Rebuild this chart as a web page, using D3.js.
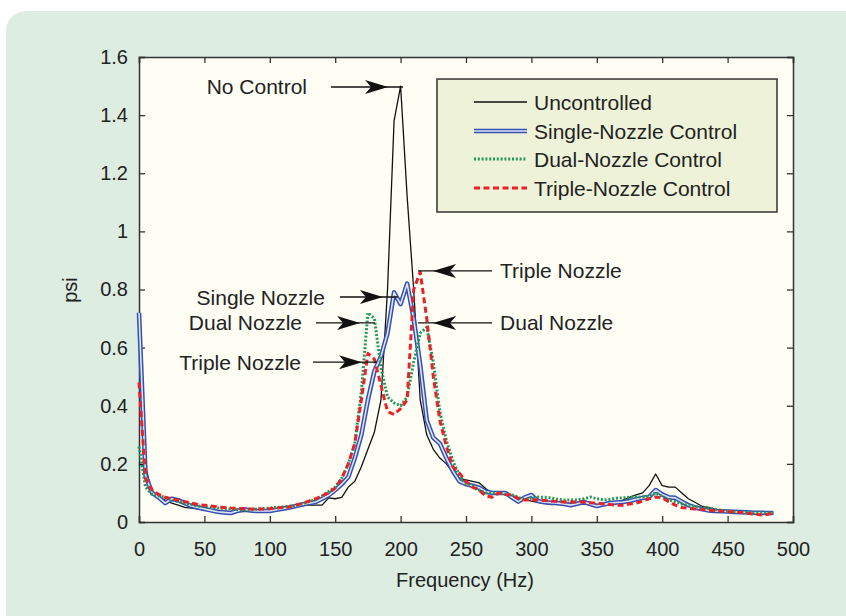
<!DOCTYPE html>
<html>
<head>
<meta charset="utf-8">
<script src="https://cdn.jsdelivr.net/npm/d3@7"></script>
<style>
  body { margin: 0; background: #fff; }
  svg { display: block; font-family: "Liberation Sans", Arial, sans-serif; }
</style>
</head>
<body>
<div id="chart"></div>
<script>
// frequency grid (Hz), one point every 5 Hz
const freq = d3.range(0, 490, 5);

// psi values
const uncontrolled = [
  0.20, 0.19, 0.10, 0.085, 0.075, 0.065, 0.058, 0.05, 0.048, 0.045,
  0.041, 0.04, 0.038, 0.036, 0.035, 0.035, 0.036, 0.037, 0.037, 0.038,
  0.04, 0.043, 0.047, 0.05, 0.053, 0.056, 0.058, 0.058, 0.058, 0.083,
  0.08, 0.085, 0.12, 0.14, 0.19, 0.25, 0.31, 0.42, 0.80, 1.38,
  1.50, 1.12, 0.80, 0.42, 0.30, 0.25, 0.22, 0.20, 0.17, 0.15,
  0.145, 0.14, 0.135, 0.115, 0.10, 0.10, 0.095, 0.09, 0.085, 0.078,
  0.072, 0.068, 0.064, 0.06, 0.062, 0.064, 0.065, 0.063, 0.062, 0.06,
  0.06, 0.062, 0.064, 0.066, 0.075, 0.085, 0.093, 0.10, 0.125, 0.165,
  0.125, 0.12, 0.12, 0.10, 0.08, 0.068, 0.055, 0.05, 0.044, 0.041,
  0.038, 0.036, 0.035, 0.034, 0.033, 0.032, 0.031, 0.03
];
const singleNozzle = [
  0.72, 0.16, 0.10, 0.085, 0.065, 0.08, 0.075, 0.065, 0.055, 0.05,
  0.045, 0.04, 0.035, 0.033, 0.031, 0.038, 0.044, 0.04, 0.038, 0.038,
  0.038, 0.042, 0.046, 0.05, 0.055, 0.06, 0.065, 0.069, 0.08, 0.092,
  0.11, 0.13, 0.155, 0.22, 0.30, 0.42, 0.52, 0.57, 0.65, 0.79,
  0.75, 0.82, 0.70, 0.54, 0.35, 0.29, 0.27, 0.22, 0.175, 0.14,
  0.13, 0.125, 0.118, 0.105, 0.10, 0.10, 0.10, 0.085, 0.07, 0.085,
  0.093, 0.072, 0.068, 0.066, 0.065, 0.062, 0.058, 0.063, 0.069, 0.062,
  0.055, 0.06, 0.065, 0.067, 0.069, 0.072, 0.078, 0.083, 0.086, 0.11,
  0.095, 0.085, 0.083, 0.07, 0.058, 0.05, 0.045, 0.04, 0.038, 0.037,
  0.036, 0.035, 0.034, 0.033, 0.032, 0.032, 0.031, 0.031
];
const dualNozzle = [
  0.26, 0.12, 0.095, 0.09, 0.085, 0.075, 0.07, 0.065, 0.06, 0.055,
  0.052, 0.05, 0.048, 0.047, 0.045, 0.043, 0.041, 0.042, 0.044, 0.046,
  0.048, 0.05, 0.052, 0.054, 0.057, 0.063, 0.07, 0.077, 0.09, 0.105,
  0.12, 0.15, 0.20, 0.27, 0.45, 0.72, 0.70, 0.53, 0.43, 0.41,
  0.40, 0.43, 0.55, 0.65, 0.67, 0.55, 0.38, 0.28, 0.21, 0.16,
  0.13, 0.125, 0.11, 0.10, 0.10, 0.10, 0.095, 0.093, 0.085, 0.076,
  0.082, 0.086, 0.085, 0.083, 0.078, 0.076, 0.076, 0.076, 0.08, 0.086,
  0.08, 0.076, 0.078, 0.082, 0.083, 0.085, 0.086, 0.086, 0.088, 0.10,
  0.088, 0.076, 0.07, 0.062, 0.057, 0.053, 0.05, 0.048, 0.044, 0.04,
  0.037, 0.035, 0.034, 0.033, 0.032, 0.032, 0.031, 0.031
];
const tripleNozzle = [
  0.48, 0.15, 0.11, 0.095, 0.085, 0.08, 0.075, 0.07, 0.065, 0.06,
  0.058, 0.055, 0.052, 0.05, 0.048, 0.047, 0.046, 0.045, 0.045, 0.045,
  0.046, 0.048, 0.05, 0.052, 0.058, 0.064, 0.072, 0.08, 0.09, 0.10,
  0.117, 0.15, 0.20, 0.27, 0.42, 0.58, 0.56, 0.47, 0.38, 0.37,
  0.39, 0.42, 0.80, 0.86, 0.70, 0.50, 0.35, 0.26, 0.19, 0.168,
  0.14, 0.12, 0.11, 0.09, 0.085, 0.10, 0.095, 0.093, 0.08, 0.076,
  0.076, 0.076, 0.074, 0.072, 0.07, 0.069, 0.069, 0.069, 0.069, 0.066,
  0.065, 0.062, 0.06, 0.058, 0.058, 0.062, 0.065, 0.072, 0.08, 0.086,
  0.083, 0.07, 0.058, 0.05, 0.047, 0.045, 0.043, 0.041, 0.039, 0.038,
  0.036, 0.034, 0.033, 0.03, 0.027, 0.025, 0.026, 0.031
];

const seriesNames = ["Uncontrolled", "Single-Nozzle Control", "Dual-Nozzle Control", "Triple-Nozzle Control"];
const xTicks = [0, 50, 100, 150, 200, 250, 300, 350, 400, 450, 500];
const yTicks = [0, 0.2, 0.4, 0.6, 0.8, 1, 1.2, 1.4, 1.6];
const yTickLabels = ["0", "0.2", "0.4", "0.6", "0.8", "1", "1.2", "1.4", "1.6"];

// annotation labels with arrow tip (Hz, psi)
const noteText = ["No Control", "Single Nozzle", "Dual Nozzle", "Triple Nozzle", "Triple Nozzle", "Dual Nozzle"];
const noteFreq = [190.4, 186.5, 169, 170.5, 224.8, 224.8];
const notePsi = [1.497, 0.774, 0.685, 0.55, 0.864, 0.685];
const noteSide = [-1, -1, -1, -1, 1, 1]; // text on left (-1) or right (1)
const noteLen = [57, 43, 44, 49, 59, 59];
const noteGap = [24, 15, 14, 12, 8, 8];

const W = 846, H = 616;
const svg = d3.select("#chart").append("svg")
  .attr("width", W).attr("height", H);

// green rounded panel
svg.append("rect")
  .attr("x", 6).attr("y", 11).attr("width", W + 30).attr("height", H + 30)
  .attr("rx", 20).attr("fill", "#ddede2");

const x = d3.scaleLinear().domain([0, 500]).range([139, 793]);
const y = d3.scaleLinear().domain([0, 1.6]).range([522, 57]);

svg.append("rect")
  .attr("x", 139).attr("y", 57).attr("width", 654).attr("height", 465)
  .attr("fill", "#fefef4");

// axes, ticks pointing inward on all 4 sides
const gx = svg.append("g").attr("transform", "translate(0,522)")
  .call(d3.axisBottom(x).tickValues(xTicks).tickSize(-6).tickPadding(20).tickFormat(d3.format("d")));
const gy = svg.append("g").attr("transform", "translate(139,0)")
  .call(d3.axisLeft(y).tickValues(yTicks).tickSize(-6).tickPadding(11).tickFormat((d, i) => yTickLabels[i]));
svg.append("g").attr("transform", "translate(0,57)")
  .call(d3.axisTop(x).tickValues(xTicks).tickSize(-6).tickFormat(""));
svg.append("g").attr("transform", "translate(793,0)")
  .call(d3.axisRight(y).tickValues(yTicks).tickSize(-6).tickFormat(""));

svg.selectAll(".domain").attr("stroke", "#333").attr("stroke-width", 1.5);
svg.selectAll(".tick line").attr("stroke", "#333").attr("stroke-width", 1.3);
svg.selectAll(".tick text").attr("fill", "#222").style("font-size", "20px");

// axis titles
svg.append("text")
  .attr("x", 465).attr("y", 587).attr("text-anchor", "middle")
  .attr("fill", "#222").style("font-size", "20px")
  .text("Frequency (Hz)");
svg.append("text")
  .attr("transform", "translate(77,290) rotate(-90)")
  .attr("text-anchor", "middle")
  .attr("fill", "#222").style("font-size", "20px")
  .text("psi");

// line styles for each series
const styles = [
  [{ stroke: "#111", width: 1.3, dash: null }],
  [{ stroke: "#3550b0", width: 4.6, dash: null }, { stroke: "#dfe4f6", width: 1.6, dash: null }],
  [{ stroke: "#24985a", width: 3, dash: "2 1.8" }],
  [{ stroke: "#e8212b", width: 3, dash: "6 3.5" }]
];
const allSeries = [uncontrolled, singleNozzle, dualNozzle, tripleNozzle];

const line = d3.line()
  .x((d, i) => x(freq[i]))
  .y(d => y(d));

allSeries.forEach((vals, k) => {
  styles[k].forEach(s => {
    svg.append("path")
      .datum(vals)
      .attr("d", line)
      .attr("fill", "none")
      .attr("stroke", s.stroke)
      .attr("stroke-width", s.width)
      .attr("stroke-dasharray", s.dash)
      .attr("stroke-linejoin", "round");
  });
});

// legend
const lg = svg.append("g");
lg.append("rect")
  .attr("x", 437).attr("y", 79).attr("width", 340).attr("height", 133)
  .attr("fill", "#eef2d8").attr("stroke", "#333").attr("stroke-width", 1.5);
const rowY = [102, 131, 159, 188];
seriesNames.forEach((name, k) => {
  styles[k].forEach(s => {
    lg.append("line")
      .attr("x1", 474).attr("x2", 527)
      .attr("y1", rowY[k]).attr("y2", rowY[k])
      .attr("stroke", s.stroke)
      .attr("stroke-width", s.width)
      .attr("stroke-dasharray", s.dash);
  });
  lg.append("text")
    .attr("x", 534).attr("y", rowY[k]).attr("dy", "0.36em")
    .attr("fill", "#222").style("font-size", "21px")
    .text(name);
});

// annotations with arrows
noteText.forEach((t, i) => {
  const tx = x(noteFreq[i]), ty = y(notePsi[i]);
  const side = noteSide[i];
  const tail = tx + side * noteLen[i];
  svg.append("line")
    .attr("x1", tail).attr("x2", tx - side * 15)
    .attr("y1", ty).attr("y2", ty)
    .attr("stroke", "#111").attr("stroke-width", 1.4);
  // arrowhead points toward the tip, away from the text
  const d = -side;
  svg.append("path")
    .attr("d", `M${tx},${ty} L${tx - d * 23},${ty - 7} L${tx - d * 17},${ty} L${tx - d * 23},${ty + 7} Z`)
    .attr("fill", "#111");
  svg.append("text")
    .attr("x", tail + side * noteGap[i]).attr("y", ty).attr("dy", "0.36em")
    .attr("text-anchor", side < 0 ? "end" : "start")
    .attr("fill", "#222").style("font-size", "21px")
    .text(t);
});
</script>
</body>
</html>
